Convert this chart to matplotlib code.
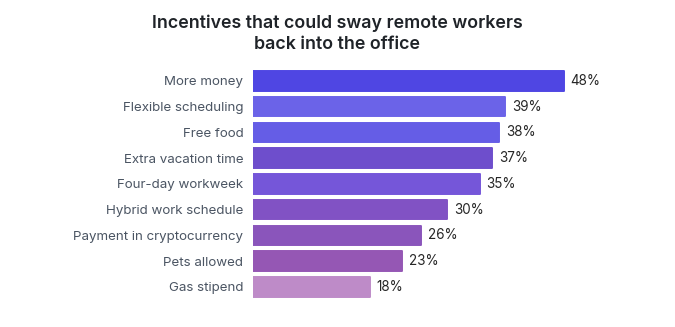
"""Horizontal bar chart: incentives that could sway remote workers back into the office."""

import matplotlib
matplotlib.use("Agg")
import matplotlib.pyplot as plt

incentives = [
    "More money",
    "Flexible scheduling",
    "Free food",
    "Extra vacation time",
    "Four-day workweek",
    "Hybrid work schedule",
    "Payment in cryptocurrency",
    "Pets allowed",
    "Gas stipend",
]
shares = [48, 39, 38, 37, 35, 30, 26, 23, 18]
bar_colors = [
    "#4f46e3",
    "#6b63e8",
    "#655de6",
    "#6e4ecc",
    "#7556d9",
    "#8152c4",
    "#8a55bb",
    "#9557b4",
    "#be8bc8",
]

plt.rcParams["font.family"] = ["Inter", "DejaVu Sans"]

fig = plt.figure(figsize=(6.75, 3.27), dpi=100)
ax = fig.add_axes([0.375, 0.083, 0.575, 0.709])

ypos = list(range(len(incentives)))
bars = ax.barh(
    ypos,
    shares,
    height=0.76,
    color=bar_colors,
    edgecolor=bar_colors,
    linewidth=1.4,
)
for bar in bars:
    bar.set_joinstyle("round")

for y, val in zip(ypos, shares):
    ax.text(val + 1.1, y, f"{val}%", va="center", ha="left", fontsize=9.7, color="#262626")

ax.set_yticks(ypos)
ax.set_yticklabels(incentives, fontsize=9.6, color="#4b5563")
ax.tick_params(axis="y", length=0, pad=7)
ax.set_xlim(0, 60)
ax.set_ylim(len(incentives) - 0.5, -0.5)
ax.set_xticks([])
for spine in ax.spines.values():
    spine.set_visible(False)

fig.text(
    0.5,
    0.898,
    "Incentives that could sway remote workers\nback into the office",
    ha="center",
    va="center",
    fontsize=12.8,
    fontweight="semibold",
    color="#1f2328",
    linespacing=1.3,
)

fig.savefig("out.png", dpi=100, facecolor="white")
